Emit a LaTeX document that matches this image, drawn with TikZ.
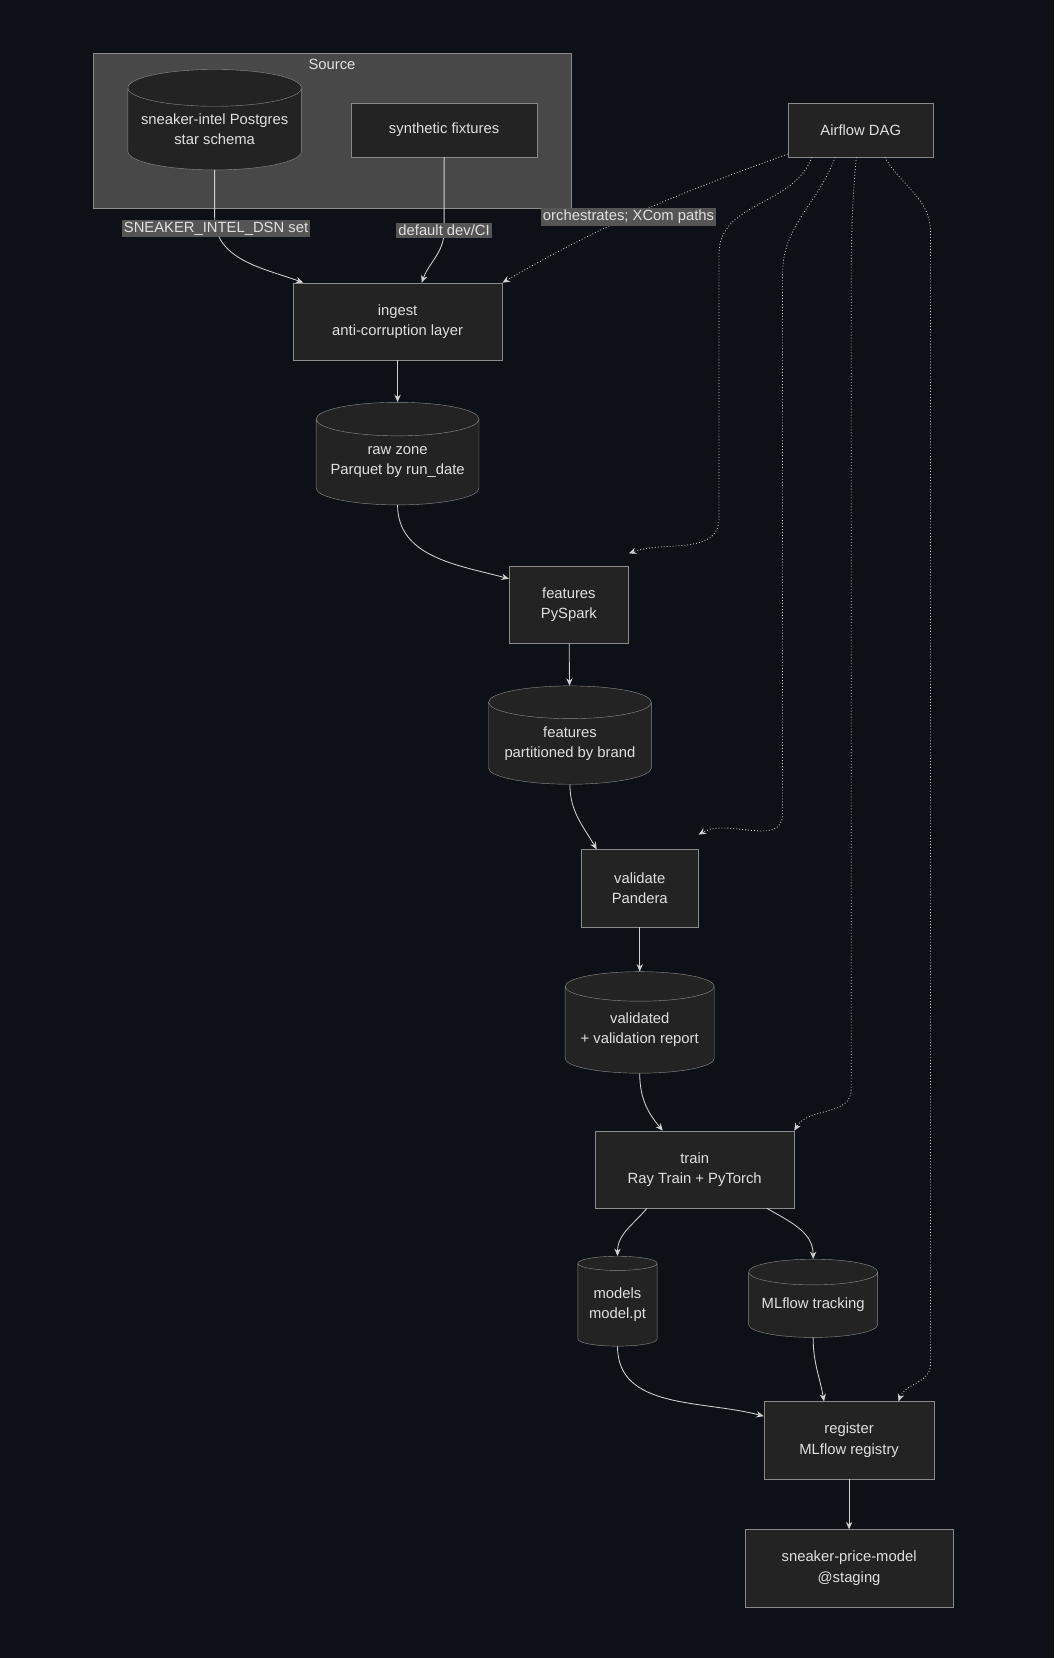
\documentclass[tikz,border=0pt]{standalone}
\usepackage{fontspec}
\setmainfont{Liberation Sans}
\usetikzlibrary{shapes.geometric,arrows.meta}
\definecolor{bgc}{HTML}{0D1117}
\definecolor{nodec}{HTML}{222322}
\definecolor{linec}{HTML}{8A8A8A}
\definecolor{clusterc}{HTML}{484848}
\definecolor{labc}{HTML}{555555}
\definecolor{txtc}{HTML}{E0E0E0}
\definecolor{arrc}{HTML}{D0D0D0}
\begin{document}
\begin{tikzpicture}[x=1pt,y=-1pt,
  font=\fontsize{14}{19}\selectfont, text=txtc,
  box/.style={draw=linec, fill=nodec, align=center, inner sep=0, minimum height=73},
  db/.style={cylinder, shape border rotate=90, draw=linec, fill=nodec, align=center, inner sep=0, aspect=0.25},
  lab/.style={fill=labc, inner sep=2pt},
  flow/.style={draw=arrc, line width=0.8pt, -{Stealth[length=7pt,width=6pt]}},
  orch/.style={flow, dotted}]
	\fill[bgc] (0,0) rectangle (997,1568);
	% source group
	\draw[linec, fill=clusterc] (88,50) rectangle (540,197);
	\node (srclab) at (314,61) {Source};
	\node[db, minimum width=164, minimum height=95] at (203,122) (pg) {sneaker-intel Postgres\\star schema};
	\node[box, minimum width=176, minimum height=51] at (420,123) (synth) {synthetic fixtures};
	\node[box, minimum width=138, minimum height=51] at (814,123) (dag) {Airflow DAG};
	% pipeline
	\node[box, minimum width=198] at (376,304) (ingest) {ingest\\anti-corruption layer};
	\node[db, minimum width=154, minimum height=97] at (376,437) (raw) {raw zone\\Parquet by run\_date};
	\node[box, minimum width=113] at (538,572) (feat) {features\\PySpark};
	\node[db, minimum width=154, minimum height=93] at (539,703) (featdb) {features\\partitioned by brand};
	\node[box, minimum width=111] at (605,840) (valid) {validate\\Pandera};
	\node[db, minimum width=141, minimum height=96] at (605,974) (validdb) {validated\\+ validation report};
	\node[box, minimum width=188] at (657,1106) (train) {train\\Ray Train + PyTorch};
	\node[db, minimum width=75, minimum height=85] at (584,1234) (models) {models\\model.pt};
	\node[db, minimum width=122, minimum height=74] at (769,1234) (track) {MLflow tracking};
	\node[box, minimum width=161] at (803,1362) (reg) {register\\MLflow registry};
	\node[box, minimum width=197] at (803,1483) (final) {sneaker-price-model\\@staging};
	% source edges
	\draw[flow] (pg.south) -- (203,205) to[out=-90,in=160] node[pos=0.1, lab] {SNEAKER\_INTEL\_DSN set} ([xshift=10pt]ingest.north west);
	\draw[flow] (synth.south) -- (420,218) node[lab] {default dev/CI} to[out=-90,in=70] ([xshift=122pt]ingest.north west);
	% orchestration
	\draw[orch] ([xshift=0pt]dag.south west) ++(0,-3) to[out=200,in=30] node[pos=0.55, lab] {orchestrates; XCom paths} (ingest.north east);
	\draw[orch] ([xshift=23pt]dag.south west) to[out=250,in=90] (680,240) -- (680,490) to[out=-90,in=20] ([yshift=12pt]feat.north east);
	\draw[orch] ([xshift=45pt]dag.south west) to[out=250,in=90] (740,260) -- (740,770) to[out=-90,in=30] ([yshift=14pt]valid.north east);
	\draw[orch] ([xshift=65pt]dag.south west) to[out=265,in=90] (805,300) -- (805,1030) to[out=-90,in=60] (train.north east);
	\draw[orch] ([xshift=92pt]dag.south west) to[out=300,in=90] (880,220) -- (880,1290) to[out=-90,in=70] ([xshift=-34pt]reg.north east);
	% data flow
	\draw[flow] (ingest) -- (raw);
	\draw[flow] (raw.south) to[out=-90,in=165] ([yshift=-12pt]feat.north west);
	\draw[flow] (feat) -- (featdb);
	\draw[flow] (featdb.south) to[out=-90,in=120] ([xshift=15pt]valid.north west);
	\draw[flow] (valid) -- (validdb);
	\draw[flow] (validdb.south) to[out=-90,in=130] ([xshift=64pt]train.north west);
	\draw[flow] ([xshift=49pt]train.south west) to[out=230,in=90] (models.north);
	\draw[flow] ([xshift=-26pt]train.south east) to[out=-30,in=90] (track.north);
	\draw[flow] (models.south) to[out=-90,in=165] ([yshift=-14pt]reg.north west);
	\draw[flow] (track.south) to[out=-90,in=100] ([xshift=57pt]reg.north west);
	\draw[flow] (reg) -- (final);
\end{tikzpicture}
\end{document}
